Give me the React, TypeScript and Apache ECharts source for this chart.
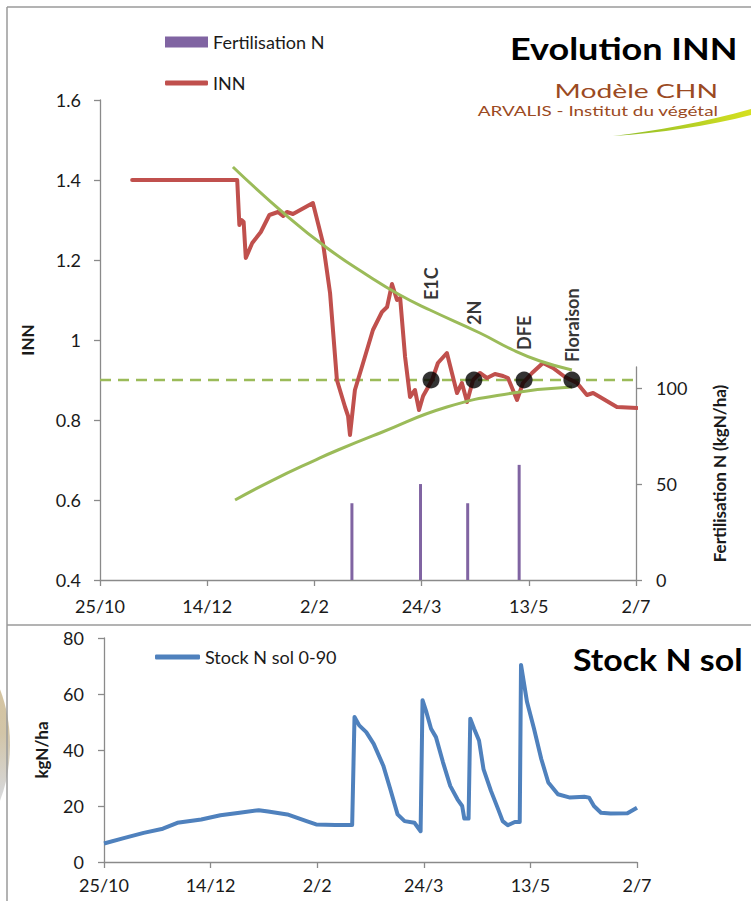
import React, { useEffect, useRef } from "react";
import * as echarts from "echarts";

// x positions are days counted from 25/10
const tickLabels = ["25/10", "14/12", "2/2", "24/3", "13/5", "2/7"];

const innPoints: [number, number][] = [
  [15, 1.4], [64, 1.4], [65, 1.2875], [66, 1.3], [67, 1.295], [68, 1.205],
  [71, 1.2425], [75, 1.27], [79, 1.3125], [83, 1.32], [85.4, 1.31], [87.2, 1.32],
  [90, 1.315], [99.3, 1.3425], [104, 1.2425], [107.3, 1.1175], [110.5, 0.9],
  [114.3, 0.8325], [115.7, 0.81], [116.6, 0.7625], [118.9, 0.875], [122.7, 0.9425],
  [127.3, 1.025], [131.5, 1.07], [133.9, 1.0825], [136.2, 1.14], [138.5, 1.1],
  [140, 1.105], [142.3, 0.9575], [144.6, 0.8575], [146.9, 0.875], [148.8, 0.825],
  [150.7, 0.86], [154.9, 0.9], [157.6, 0.9425], [161.8, 0.9675], [166.5, 0.8675],
  [168.8, 0.8925], [171.2, 0.845], [174, 0.9], [177.2, 0.9175], [180.5, 0.905],
  [184.2, 0.915], [188, 0.91], [190.3, 0.905], [194.5, 0.85], [197.3, 0.8925],
  [201.5, 0.9175], [206.6, 0.9425], [211.3, 0.93], [216.9, 0.9075], [222.5, 0.8925],
  [227.1, 0.8625], [230, 0.8675], [233.2, 0.8575], [241.1, 0.8325], [250.5, 0.83],
];

const upperCurve: [number, number][] = [
  [62, 1.4325], [87.2, 1.31], [105.9, 1.23], [124.5, 1.1625], [139.9, 1.1125],
  [153.9, 1.075], [177.2, 1.0175], [192.6, 0.975], [205.2, 0.9475], [220.1, 0.925],
];

const lowerCurve: [number, number][] = [
  [63, 0.6], [80, 0.648], [100.7, 0.7005], [111, 0.725], [130.6, 0.7675],
  [161.8, 0.8325], [192.6, 0.8675], [220.1, 0.8825],
];

const referenceLine: [number, number][] = [[0, 0.9], [250, 0.9]];

const stageNames = ["E1C", "2N", "DFE", "Floraison"];
const stageDays = [154.4, 174.4, 197.8, 220.1];
const stageValues = [0.9, 0.9, 0.9, 0.9];

const fertDays = [117.5, 149.5, 171.5, 195.5];
const fertValues = [40, 50, 40, 60];

const stockPoints: [number, number][] = [
  [0, 6.6], [9.7, 8.6], [18.6, 10.4], [27.6, 11.9], [34.4, 14.0], [45.6, 15.2],
  [54.6, 16.7], [63.6, 17.6], [72.6, 18.5], [77, 18], [86, 17.0], [95, 14.6],
  [99.5, 13.4], [108.5, 13.2], [116.4, 13.2], [117.5, 51.8], [119.7, 48.8],
  [123, 46.4], [126.5, 42.2], [131, 34.4], [134.3, 26.0], [137.7, 17.0],
  [141, 14.6], [145.6, 14.0], [148.5, 11.0], [149.4, 57.8], [151.2, 53.6],
  [153.4, 47.6], [155.7, 44.6], [159, 35.6], [162.4, 27.2], [165.8, 22.4],
  [168, 20.0], [169, 15.5], [171, 15.5], [171.8, 51.2], [173.6, 47.6],
  [175.9, 43.4], [178, 33.2], [181.5, 25.4], [184.9, 18.8], [187, 14.6],
  [189.4, 13.1], [192.7, 14.3], [195, 14.3], [195.6, 70.4], [198.4, 57.2],
  [201.7, 47.6], [205.1, 36.8], [208.4, 28.4], [212.9, 24.2], [218.6, 23.0],
  [225.3, 23.3], [227.5, 23], [229.8, 20.0], [233.1, 17.6], [237.6, 17.3],
  [245.5, 17.4], [250, 19.4],
];

const labelDistances = [71.5, 46.5, 21.5, 9.5];

const FONT = "Lato, 'Open Sans', sans-serif";
const AXIS_COLOR = "#8a8a8a";
const TEXT_COLOR = "#1a1a1a";
const LABEL_SIZE = 18;

echarts.graphic.registerShape(
  "swoosh",
  echarts.graphic.extendPath(
    "M613,136 C655,131 705,122 751,109 L751,115 C708,126 660,133 613,136 Z",
    {}
  )
);

const dateFormatter = (v: number) => {
  const i = Math.round(v / 50);
  return Math.abs(v - i * 50) < 0.01 ? tickLabels[i] ?? "" : "";
};

const axisLineStyle = { show: true, onZero: false, lineStyle: { color: AXIS_COLOR, width: 1.3 } };
const axisTickStyle = { show: true, lineStyle: { color: AXIS_COLOR, width: 1.3 }, length: 6 };

const xAxisBase = {
  type: "value",
  min: 0,
  max: 250,
  interval: 50,
  splitLine: { show: false },
  axisLine: axisLineStyle,
  axisTick: axisTickStyle,
};

const nameStyle = { fontSize: 17, fontWeight: "bold", color: TEXT_COLOR, fontFamily: FONT };

export default function App() {
  const ref = useRef<HTMLDivElement>(null);
  useEffect(() => {
    if (!ref.current) return;
    const chart = echarts.init(ref.current, null, { renderer: "svg" });
    const option: any = {
      animation: false,
      backgroundColor: "#ffffff",
      textStyle: { fontFamily: FONT },
      grid: [
        { left: 100, top: 100, width: 536, height: 480 },
        { left: 100, top: 367, width: 536, height: 213 },
        { left: 104, top: 638, width: 533, height: 224 },
      ],
      legend: [
        {
          data: [{ name: "Fertilisation N", icon: "rect" }],
          left: 165, top: 33, padding: 0, itemWidth: 43, itemHeight: 11,
          textStyle: { fontSize: LABEL_SIZE, color: TEXT_COLOR, fontFamily: FONT },
        },
        {
          data: [{ name: "INN", icon: "roundRect" }],
          left: 165, top: 74, padding: 0, itemWidth: 43, itemHeight: 5,
          textStyle: { fontSize: LABEL_SIZE, color: TEXT_COLOR, fontFamily: FONT },
        },
        {
          data: [{ name: "Stock N sol 0-90", icon: "roundRect" }],
          left: 155, top: 648, padding: 0, itemWidth: 45, itemHeight: 5,
          textStyle: { fontSize: LABEL_SIZE, color: TEXT_COLOR, fontFamily: FONT },
        },
      ],
      xAxis: [
        {
          ...xAxisBase, gridIndex: 0,
          axisLabel: { formatter: dateFormatter, fontSize: LABEL_SIZE, color: TEXT_COLOR, margin: 17, fontFamily: FONT },
        },
        { ...xAxisBase, gridIndex: 1, show: false },
        {
          ...xAxisBase, gridIndex: 2,
          axisLabel: { formatter: dateFormatter, fontSize: LABEL_SIZE, color: TEXT_COLOR, margin: 14, fontFamily: FONT },
        },
      ],
      yAxis: [
        {
          type: "value", gridIndex: 0, min: 0.4, max: 1.6, interval: 0.2,
          splitLine: { show: false },
          axisLine: axisLineStyle,
          axisTick: axisTickStyle,
          axisLabel: {
            fontSize: LABEL_SIZE, color: TEXT_COLOR, margin: 19, fontFamily: FONT,
            formatter: (v: number) => (Math.abs(v - 1) < 1e-6 ? "1" : v.toFixed(1)),
          },
          name: "INN", nameLocation: "middle", nameRotate: 90, nameGap: 64,
          nameTextStyle: nameStyle,
        },
        {
          type: "value", gridIndex: 1, position: "right", min: 0, max: 111, interval: 50,
          splitLine: { show: false },
          axisLine: axisLineStyle,
          axisTick: { ...axisTickStyle, customValues: [0, 50, 100] },
          axisLabel: { fontSize: LABEL_SIZE, color: TEXT_COLOR, margin: 20, fontFamily: FONT, customValues: [0, 50, 100] },
          name: "Fertilisation N (kgN/ha)", nameLocation: "middle", nameRotate: 90, nameGap: 75,
          nameTextStyle: nameStyle,
        },
        {
          type: "value", gridIndex: 2, min: 0, max: 80, interval: 20,
          splitLine: { show: false },
          axisLine: axisLineStyle,
          axisTick: axisTickStyle,
          axisLabel: { fontSize: LABEL_SIZE, color: TEXT_COLOR, margin: 20, fontFamily: FONT },
          name: "kgN/ha", nameLocation: "middle", nameRotate: 90, nameGap: 54,
          nameTextStyle: nameStyle,
        },
      ],
      series: [
        {
          name: "Fertilisation N", type: "bar", xAxisIndex: 1, yAxisIndex: 1,
          barWidth: 3, itemStyle: { color: "#8064A2" },
          data: fertDays.map((d, i) => [d, fertValues[i]]),
        },
        {
          name: "INN", type: "line", xAxisIndex: 0, yAxisIndex: 0,
          showSymbol: false, symbol: "none", color: "#C0504D",
          lineStyle: { color: "#C0504D", width: 4, join: "round", cap: "round" },
          data: innPoints, z: 3,
        },
        {
          name: "Borne haute", type: "line", xAxisIndex: 0, yAxisIndex: 0,
          symbol: "none", smooth: true, lineStyle: { color: "#9BBB59", width: 3 },
          data: upperCurve, z: 4,
        },
        {
          name: "Borne basse", type: "line", xAxisIndex: 0, yAxisIndex: 0,
          symbol: "none", smooth: true, lineStyle: { color: "#9BBB59", width: 3 },
          data: lowerCurve, z: 4,
        },
        {
          name: "INN = 0.9", type: "line", xAxisIndex: 0, yAxisIndex: 0,
          symbol: "none", lineStyle: { color: "#9BBB59", width: 2.5, type: [11, 7] },
          data: referenceLine, z: 2,
        },
        {
          name: "Stades", type: "scatter", xAxisIndex: 0, yAxisIndex: 0,
          symbolSize: 17, itemStyle: { color: "#000000" }, z: 6,
          data: stageNames.map((n, i) => ({
            name: n,
            value: [stageDays[i], stageValues[i]],
            label: {
              show: true, formatter: "{b}", rotate: 90, position: "top",
              distance: labelDistances[i], align: "left", verticalAlign: "middle",
              fontSize: 18, fontWeight: "bold", color: "#000000", fontFamily: FONT,
            },
          })),
        },
        {
          name: "Stock N sol 0-90", type: "line", xAxisIndex: 2, yAxisIndex: 2,
          symbol: "none", color: "#4F81BD",
          lineStyle: { color: "#4F81BD", width: 4, join: "round" },
          data: stockPoints,
        },
      ],
      graphic: [
        {
          type: "ellipse", z: -10,
          shape: { cx: -70, cy: 745, rx: 80, ry: 115 },
          style: {
            fill: new echarts.graphic.LinearGradient(0, 0, 0, 1, [
              { offset: 0, color: "#d8c397" },
              { offset: 0.45, color: "#d2c5a8" },
              { offset: 0.7, color: "#d6d6d6" },
              { offset: 1, color: "#eeeeee" },
            ]),
          },
        },
        { type: "line", shape: { x1: 7, y1: 7, x2: 751, y2: 7 }, style: { stroke: "#9a9a9a", lineWidth: 1.5 } },
        { type: "line", shape: { x1: 7, y1: 7, x2: 7, y2: 901 }, style: { stroke: "#9a9a9a", lineWidth: 1.5 } },
        { type: "line", shape: { x1: 7, y1: 625, x2: 751, y2: 625 }, style: { stroke: "#9a9a9a", lineWidth: 1.5 } },
        {
          type: "text", x: 510, y: 48, scaleX: 1.2,
          style: { text: "Evolution INN", fontSize: 30, fontWeight: "bold", fill: "#000", fontFamily: FONT, verticalAlign: "middle" },
        },
        {
          type: "text", x: 718, y: 90, scaleX: 1.45,
          style: { text: "Modèle CHN", fontSize: 19.5, fill: "#9b4a22", fontFamily: FONT, align: "right", verticalAlign: "middle" },
        },
        {
          type: "text", x: 718, y: 111, scaleX: 1.35,
          style: { text: "ARVALIS - Institut du végétal", fontSize: 14, fill: "#9b4a22", fontFamily: FONT, align: "right", verticalAlign: "middle" },
        },
        {
          type: "swoosh", x: 0, y: 0,
          style: {
            fill: new echarts.graphic.LinearGradient(0, 0, 1, 0, [
              { offset: 0, color: "#8dbb2a" },
              { offset: 1, color: "#d6e020" },
            ]),
          },
        },
        {
          type: "text", x: 573, y: 659, scaleX: 1.13,
          style: { text: "Stock N sol", fontSize: 30, fontWeight: "bold", fill: "#000", fontFamily: FONT, verticalAlign: "middle" },
        },
      ],
    };
    chart.setOption(option);
    return () => chart.dispose();
  }, []);
  return (
    <div
      ref={ref}
      style={{ position: "absolute", left: 0, top: 0, width: 751, height: 901 }}
    />
  );
}
